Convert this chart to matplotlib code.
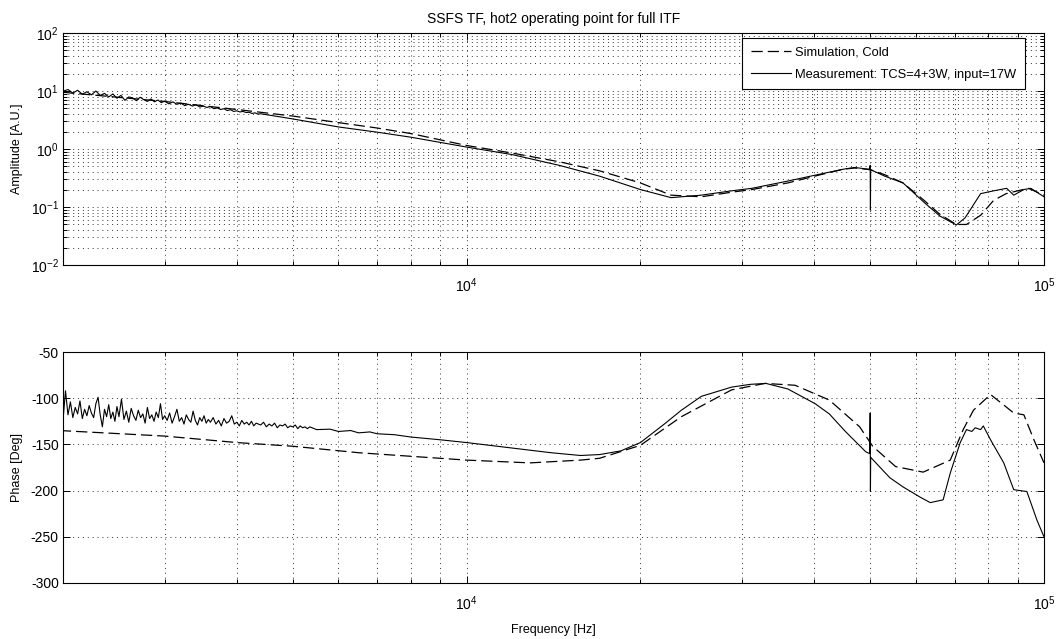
import matplotlib
matplotlib.use('Agg')
import matplotlib.pyplot as plt
from matplotlib.ticker import LogLocator, NullFormatter, MultipleLocator

plt.rcParams['font.family'] = ['Liberation Sans', 'DejaVu Sans']
plt.rcParams['mathtext.default'] = 'regular'
plt.rcParams['axes.unicode_minus'] = False
plt.rcParams['font.size'] = 9

# amplitude, measurement (noisy at low frequency)
amp_meas_f = [2000, 2040, 2080, 2120, 2160, 2200, 2240, 2280, 2320, 2360, 2400, 2440, 2480,
              2520, 2560, 2600, 2640, 2680, 2720, 2760, 2800, 2840, 2880, 2920, 2960, 3000,
              3050, 3100, 3150, 3200, 3250, 3300, 3350, 3400, 3450, 3500, 3550, 3600, 3650,
              3700, 3750, 3800, 3850, 3900, 3950, 4000, 4050, 4100, 4150, 4200, 4250, 4300,
              4350, 4400,
              5000, 6000, 7000, 8000, 10000, 12000, 14500, 17000, 20000,
              22600, 25500, 28770, 31200, 36000, 41000, 45000, 47000, 49500, 49900,
              50000, 50050, 50100, 53000, 57000, 62000, 66000, 70500, 73000, 77670,
              81800, 86160, 88630, 92290, 94870, 100000]
amp_meas = [9.9, 10.6, 9.2, 10.3, 8.8, 9.7, 8.6, 10.0, 8.4, 9.1, 7.9, 8.9, 7.5,
            8.4, 6.9, 7.9, 7.6, 6.8, 7.8, 7.1, 6.6, 7.3, 6.5, 7.0, 6.3, 6.7,
            6.0, 6.5, 5.9, 6.2, 5.6, 5.9, 5.5, 5.8, 5.3, 5.5, 5.2, 5.4, 4.95,
            5.1, 4.8, 4.95, 4.6, 4.75, 4.45, 4.55, 4.35, 4.45, 4.25, 4.3, 4.1, 4.2,
            4.0, 4.05,
            3.3, 2.4, 1.95, 1.6, 1.08, 0.8, 0.52, 0.34, 0.2,
            0.145, 0.16, 0.19, 0.21, 0.28, 0.37, 0.45, 0.48, 0.45, 0.45,
            0.52, 0.089, 0.44, 0.34, 0.26, 0.12, 0.07, 0.049, 0.065, 0.17,
            0.19, 0.21, 0.16, 0.2, 0.21, 0.15]

# amplitude, simulation
amp_sim_f = [2000, 3000, 4000, 5000, 6000, 7000, 8000, 10000, 12000, 14500, 17000,
             20000, 22600, 25500, 28770, 31200, 36000, 41000, 45000, 47000, 50000,
             53000, 57000, 62000, 66000, 70500, 73400, 77670, 81800, 86000, 90000,
             94000, 100000]
amp_sim = [9.5, 6.6, 4.8, 3.7, 2.85, 2.3, 1.85, 1.15, 0.85, 0.6, 0.42,
           0.26, 0.16, 0.15, 0.18, 0.2, 0.26, 0.36, 0.45, 0.47, 0.44,
           0.36, 0.26, 0.13, 0.075, 0.05, 0.05, 0.072, 0.13, 0.17, 0.19,
           0.21, 0.16]

# phase, measurement (noisy at low frequency)
ph_meas_f = [2000, 2020, 2040, 2060, 2080, 2100, 2120, 2140, 2160, 2180, 2200, 2220, 2240,
             2260, 2280, 2300, 2320, 2340, 2360, 2380, 2400, 2420, 2440, 2460, 2480,
             2500, 2525, 2550, 2575, 2600, 2625, 2650, 2675, 2700, 2725, 2750, 2775,
             2800, 2825, 2850, 2875, 2900, 2925, 2950, 2975,
             3000, 3030, 3060, 3090, 3120, 3150, 3180, 3210, 3240, 3270, 3300, 3330,
             3360, 3390, 3420, 3450, 3480, 3510, 3540, 3570,
             3600, 3640, 3680, 3720, 3760, 3800, 3840, 3880, 3920, 3960, 4000, 4040,
             4080, 4120, 4160, 4200, 4240, 4280, 4320, 4360,
             4400, 4450, 4500, 4550, 4600, 4650, 4700, 4750, 4800, 4850, 4900, 4950,
             5000, 5050, 5100, 5150, 5200, 5250, 5300, 5350,
             5500, 5800, 6000, 6300, 6500, 6800, 7000, 7500, 8000, 9000, 10000,
             12000, 14000, 15750, 17000, 18500, 20000,
             22000, 23550, 25500, 28770, 31000, 33000, 36000, 40160, 42480, 45290,
             49130, 49900, 50000, 50050, 50100, 54060, 57000, 60990, 63540, 66880,
             68810, 71600, 73400, 75000, 76000, 77670, 78500, 80800, 85170, 88630,
             93390, 97230, 100000]
ph_meas = [-124, -92, -118, -104, -121, -110, -117, -103, -122, -112, -119, -108, -116,
           -121, -106, -99, -118, -131, -112, -120, -107, -122, -115, -125, -109,
           -120, -101, -123, -114, -126, -111, -119, -124, -113, -121, -117, -127,
           -110, -122, -118, -125, -115, -121, -106, -123,
           -119, -124, -116, -127, -120, -112, -125, -121, -128, -118, -123, -126,
           -114, -124, -129, -121, -125, -119, -127, -123,
           -126, -121, -128, -124, -130, -122, -127, -125, -119, -128, -126, -130,
           -124, -128, -126, -129, -125, -130, -127, -128,
           -129, -126, -131, -128, -130, -127, -132, -129, -130, -128, -132, -130,
           -131, -129, -133, -130, -132, -131, -133, -131,
           -134, -133.5, -136, -135, -137.5, -136.5, -138.5, -139.5, -142, -145, -148,
           -154, -159, -162, -161, -157, -148,
           -128, -113, -98, -88, -85, -84, -90, -106, -117, -136,
           -158, -160, -116, -201, -164, -186, -196, -207, -213, -210,
           -181, -148, -134, -136, -132, -134, -130, -145, -170, -199,
           -201, -232, -250]

# phase, simulation
ph_sim_f = [1975, 3000, 4000, 5000, 6500, 10000, 12880, 15750, 17000, 20000, 23550,
            28770, 32870, 37060, 42480, 47950, 50500, 55330, 61770, 68810, 72450,
            75480, 80800, 88630, 92290, 96050, 100000]
ph_sim = [-135, -141, -148, -152, -159, -167, -170, -167, -165, -151, -120,
          -91, -84, -86, -102, -131, -152, -174, -180, -167, -134,
          -113, -96, -116, -118, -145, -170]

W, H = 1059, 639
fig = plt.figure(figsize=(W / 100, H / 100), dpi=100)
ax1 = fig.add_axes([63 / W, 1 - 265 / H, 981 / W, 232 / H])
ax2 = fig.add_axes([63 / W, 1 - 583 / H, 981 / W, 231 / H])

dash = (0, (9, 4))
grid_kw = dict(color='0.2', linestyle=(0, (1, 4)), linewidth=0.7)

ax1.loglog(amp_sim_f, amp_sim, color='k', linestyle=dash, lw=0.9, label='Simulation, Cold')
ax1.loglog(amp_meas_f, amp_meas, color='k', lw=0.8, label='Measurement: TCS=4+3W, input=17W')
ax1.set_xlim(2000, 1e5)
ax1.set_ylim(1e-2, 1e2)
ax1.set_ylabel('Amplitude [A.U.]')
ax1.set_title('SSFS TF, hot2 operating point for full ITF', fontsize=10, pad=7)
ax1.yaxis.set_minor_locator(LogLocator(base=10, subs=range(2, 10)))
ax1.yaxis.set_minor_formatter(NullFormatter())
ax1.grid(True, which='both', **grid_kw)
leg = ax1.legend(loc='upper right', bbox_to_anchor=(0.9806, 0.978), fancybox=False,
                 edgecolor='k', framealpha=1, handlelength=3.1, handletextpad=0.35,
                 borderpad=0.65, labelspacing=0.8, borderaxespad=0, fontsize=9.3)
leg.get_frame().set_linewidth(0.8)

ax2.semilogx(ph_sim_f, ph_sim, color='k', linestyle=dash, lw=0.9)
ax2.semilogx(ph_meas_f, ph_meas, color='k', lw=0.8)
ax2.set_xlim(2000, 1e5)
ax2.set_ylim(-300, -50)
ax2.yaxis.set_major_locator(MultipleLocator(50))
ax2.set_ylabel('Phase [Deg]')
ax2.set_xlabel('Frequency [Hz]', labelpad=8)
ax2.xaxis.grid(True, which='both', **grid_kw)
ax2.yaxis.grid(True, which='major', **grid_kw)

for ax in (ax1, ax2):
    ax.xaxis.set_minor_locator(LogLocator(base=10, subs=range(2, 10)))
    ax.xaxis.set_minor_formatter(NullFormatter())
    ax.tick_params(which='both', direction='in', top=True, right=True, width=0.7)
    ax.tick_params(which='major', length=5, labelsize=10)
    ax.tick_params(which='minor', length=3)
    ax.tick_params(axis='x', pad=8)
    ax.tick_params(axis='y', pad=3)
    ax.yaxis.set_label_coords(-0.041, 0.5)
    for s in ax.spines.values():
        s.set_linewidth(0.8)

plt.savefig('out.png', dpi=100)
